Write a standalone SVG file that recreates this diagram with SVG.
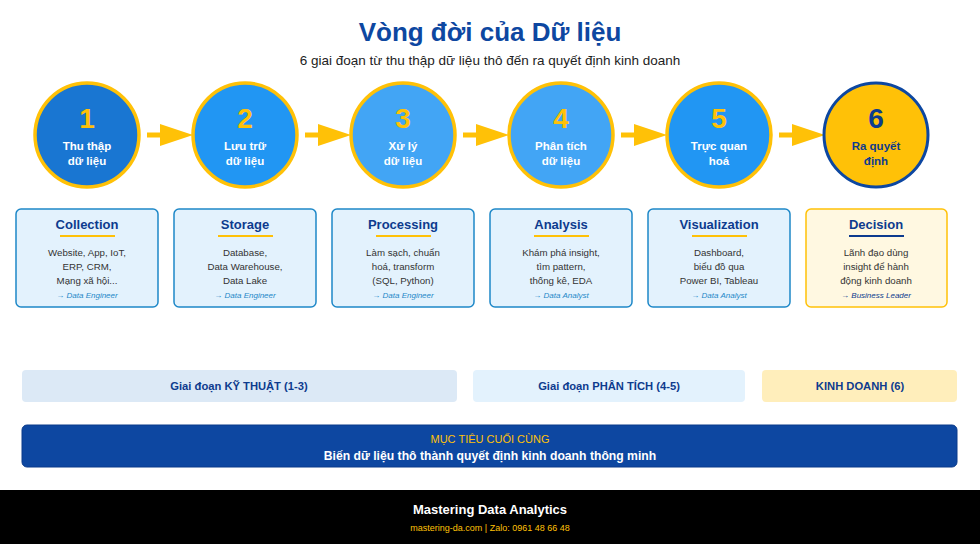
<svg xmlns="http://www.w3.org/2000/svg" width="980" height="544" viewBox="0 0 980 544">
<style>
text{font-family:"Liberation Sans",Arial,sans-serif;text-anchor:middle}
.num{font-size:28px;font-weight:bold;fill:#ffc107}
.cl{font-size:11.5px;font-weight:bold;fill:#fff}
.card{fill:#e3f2fd;stroke:#1e88c8;stroke-width:1.5}
.ct{font-size:13px;font-weight:bold;fill:#0d3b8e}
.cb{font-size:9.7px;fill:#333}
.role{font-size:8px;font-style:italic;fill:#1e88c8}
.circ{stroke:#ffc107;stroke-width:3.5}
.band{font-size:11.2px;font-weight:bold;fill:#0d3b8e}
</style>
<rect width="980" height="544" fill="#fff"/>
<text x="490" y="41" font-size="26" font-weight="bold" fill="#0d47a1">Vòng đời của Dữ liệu</text>
<text x="490" y="65" font-size="13.5" fill="#222">6 giai đoạn từ thu thập dữ liệu thô đến ra quyết định kinh doanh</text>
<g id="connectors" fill="#ffc107" stroke="#ffc107">
<g><line x1="147" y1="135" x2="162" y2="135" stroke-width="5"/><polygon points="160,124 193,135 160,146" stroke="none"/></g>
<g><line x1="305" y1="135" x2="320" y2="135" stroke-width="5"/><polygon points="318,124 351,135 318,146" stroke="none"/></g>
<g><line x1="463" y1="135" x2="478" y2="135" stroke-width="5"/><polygon points="476,124 509,135 476,146" stroke="none"/></g>
<g><line x1="621" y1="135" x2="636" y2="135" stroke-width="5"/><polygon points="634,124 667,135 634,146" stroke="none"/></g>
<g><line x1="779" y1="135" x2="794" y2="135" stroke-width="5"/><polygon points="792,124 825,135 792,146" stroke="none"/></g>
</g>
<g id="n1"><circle class="circ" cx="87" cy="135" r="52" fill="#1976d2"/><text class="num" x="87" y="128">1</text><text class="cl" x="87" y="150">Thu thập</text><text class="cl" x="87" y="165">dữ liệu</text></g>
<g id="n2"><circle class="circ" cx="245" cy="135" r="52" fill="#2196f3"/><text class="num" x="245" y="128">2</text><text class="cl" x="245" y="150">Lưu trữ</text><text class="cl" x="245" y="165">dữ liệu</text></g>
<g id="n3"><circle class="circ" cx="403" cy="135" r="52" fill="#42a5f5"/><text class="num" x="403" y="128">3</text><text class="cl" x="403" y="150">Xử lý</text><text class="cl" x="403" y="165">dữ liệu</text></g>
<g id="n4"><circle class="circ" cx="561" cy="135" r="52" fill="#42a5f5"/><text class="num" x="561" y="128">4</text><text class="cl" x="561" y="150">Phân tích</text><text class="cl" x="561" y="165">dữ liệu</text></g>
<g id="n5"><circle class="circ" cx="719" cy="135" r="52" fill="#2196f3"/><text class="num" x="719" y="128">5</text><text class="cl" x="719" y="150">Trực quan</text><text class="cl" x="719" y="165">hoá</text></g>
<g id="n6"><circle cx="876" cy="135" r="52" fill="#ffc107" stroke="#0d47a1" stroke-width="3"/><text x="876" y="128" font-size="28" font-weight="bold" fill="#0d3b8e">6</text><text x="876" y="150" font-size="11.5" font-weight="bold" fill="#0d3b8e">Ra quyết</text><text x="876" y="165" font-size="11.5" font-weight="bold" fill="#0d3b8e">định</text></g>

<g id="c1"><rect class="card" x="16" y="209" width="142" height="98" rx="5"/><text class="ct" x="87" y="229">Collection</text><rect x="60" y="235" width="55" height="2" fill="#ffc107"/><text class="cb" x="87" y="256">Website, App, IoT,</text><text class="cb" x="87" y="270">ERP, CRM,</text><text class="cb" x="87" y="284">Mạng xã hội...</text><text class="role" x="87" y="298">→ Data Engineer</text></g>
<g id="c2"><rect class="card" x="174" y="209" width="142" height="98" rx="5"/><text class="ct" x="245" y="229">Storage</text><rect x="218" y="235" width="55" height="2" fill="#ffc107"/><text class="cb" x="245" y="256">Database,</text><text class="cb" x="245" y="270">Data Warehouse,</text><text class="cb" x="245" y="284">Data Lake</text><text class="role" x="245" y="298">→ Data Engineer</text></g>
<g id="c3"><rect class="card" x="332" y="209" width="142" height="98" rx="5"/><text class="ct" x="403" y="229">Processing</text><rect x="376" y="235" width="55" height="2" fill="#ffc107"/><text class="cb" x="403" y="256">Làm sạch, chuẩn</text><text class="cb" x="403" y="270">hoá, transform</text><text class="cb" x="403" y="284">(SQL, Python)</text><text class="role" x="403" y="298">→ Data Engineer</text></g>
<g id="c4"><rect class="card" x="490" y="209" width="142" height="98" rx="5"/><text class="ct" x="561" y="229">Analysis</text><rect x="534" y="235" width="55" height="2" fill="#ffc107"/><text class="cb" x="561" y="256">Khám phá insight,</text><text class="cb" x="561" y="270">tìm pattern,</text><text class="cb" x="561" y="284">thống kê, EDA</text><text class="role" x="561" y="298">→ Data Analyst</text></g>
<g id="c5"><rect class="card" x="648" y="209" width="142" height="98" rx="5"/><text class="ct" x="719" y="229">Visualization</text><rect x="692" y="235" width="55" height="2" fill="#ffc107"/><text class="cb" x="719" y="256">Dashboard,</text><text class="cb" x="719" y="270">biểu đồ qua</text><text class="cb" x="719" y="284">Power BI, Tableau</text><text class="role" x="719" y="298">→ Data Analyst</text></g>
<g id="c6"><rect x="806" y="209" width="141" height="98" rx="5" fill="#fff8e1" stroke="#ffc107" stroke-width="1.5"/><text class="ct" x="876" y="229">Decision</text><rect x="849" y="235" width="55" height="2" fill="#0d3b8e"/><text class="cb" x="876" y="256">Lãnh đạo dùng</text><text class="cb" x="876" y="270">insight để hành</text><text class="cb" x="876" y="284">động kinh doanh</text><text class="role" x="876" y="298" style="fill:#0d3b8e">→ Business Leader</text></g>

<g id="bands">
<rect x="22" y="370" width="435" height="32" rx="4" fill="#dce9f6"/><text class="band" x="239" y="390">Giai đoạn KỸ THUẬT (1-3)</text>
<rect x="473" y="370" width="272" height="32" rx="4" fill="#e3f2fd"/><text class="band" x="609" y="390">Giai đoạn PHÂN TÍCH (4-5)</text>
<rect x="762" y="370" width="195" height="32" rx="4" fill="#ffeebb"/><text class="band" x="860" y="390">KINH DOANH (6)</text>
</g>
<g id="goal"><rect x="22" y="425" width="935" height="42" rx="5" fill="#0d47a1" stroke="#0a3a8a"/><text x="490" y="443" font-size="11" fill="#ffc107">MỤC TIÊU CUỐI CÙNG</text><text x="490" y="460" font-size="12.2" font-weight="bold" fill="#fff">Biến dữ liệu thô thành quyết định kinh doanh thông minh</text></g>
<g id="footer"><rect x="0" y="490" width="980" height="54" fill="#000"/><text x="490" y="514" font-size="13" font-weight="bold" fill="#fff">Mastering Data Analytics</text><text x="490" y="531" font-size="9" fill="#ffc107">mastering-da.com | Zalo: 0961 48 66 48</text></g>
</svg>
